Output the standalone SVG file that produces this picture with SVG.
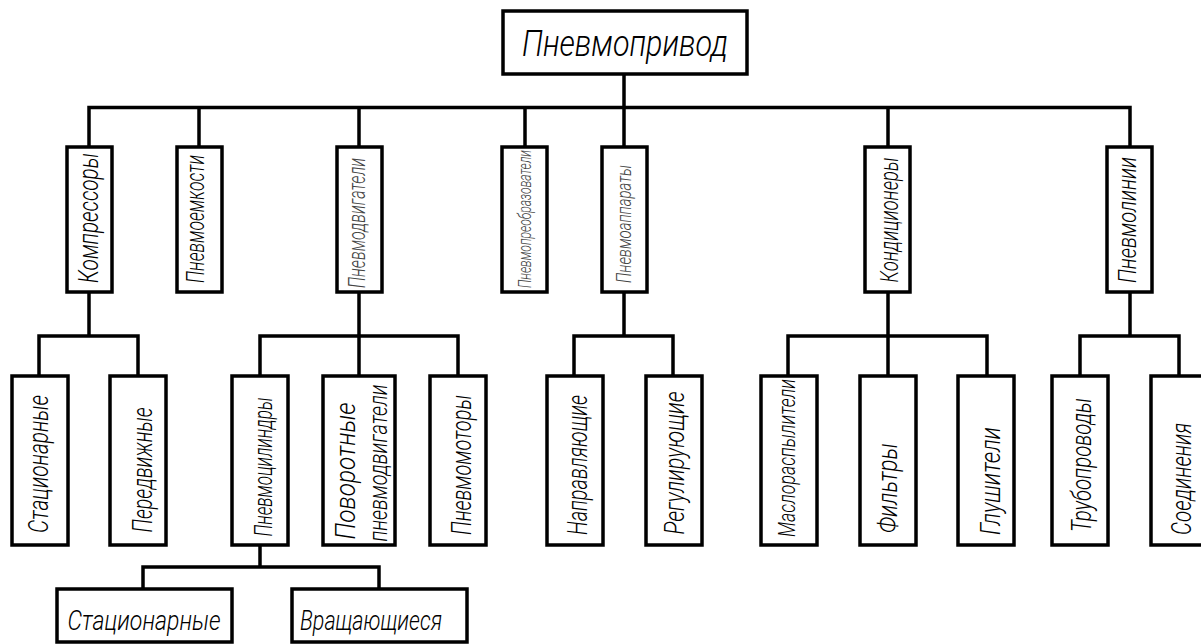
<svg xmlns="http://www.w3.org/2000/svg" width="1201" height="644" viewBox="0 0 1201 644">
<style>
.box{fill:#fff;stroke:#000;stroke-width:3.5}
.ln{fill:none;stroke:#000;stroke-width:3.5;stroke-linecap:square}
text{font-family:Roboto,"Liberation Sans","DejaVu Sans",sans-serif;font-weight:300;font-style:italic;fill:#000;text-anchor:middle}
.v{font-size:27px}
.g{fill:#444}
</style>
<rect width="1201" height="644" fill="#fff"/>
<g id="connectors">
<path class="ln" d="M624 74V107.5M89 107.5H1130M89 107.5V147M199 107.5V147M359 107.5V147M525 107.5V147M624 107.5V147M888 107.5V147M1130 107.5V147"/>
<path class="ln" d="M89 292V336M39 336H138M39 336V376M138 336V376"/>
<path class="ln" d="M359 292V376M260 336H458M260 336V376M458 336V376"/>
<path class="ln" d="M624 292V336M574 336H673M574 336V376M673 336V376"/>
<path class="ln" d="M888 292V376M788 336H987M788 336V376M987 336V376"/>
<path class="ln" d="M1130 292V336M1080 336H1179M1080 336V376M1179 336V376"/>
<path class="ln" d="M260 545V567M143 567H379M143 567V589M379 567V589"/>
</g>
<g id="n-root"><rect class="box" x="503" y="11" width="244" height="63"/><text x="625" y="56" font-size="37" textLength="206" lengthAdjust="spacingAndGlyphs">Пневмопривод</text></g>

<g id="n-kompressory"><rect class="box" x="67" y="147" width="45" height="145"/><text class="v" transform="translate(98 218) rotate(-90)" textLength="130" lengthAdjust="spacingAndGlyphs">Компрессоры</text></g>
<g id="n-emkosti"><rect class="box" x="177" y="147" width="45" height="145"/><text class="v" transform="translate(204 219) rotate(-90)" style="font-size:25px" textLength="128" lengthAdjust="spacingAndGlyphs">Пневмоемкости</text></g>
<g id="n-dvigateli"><rect class="box" x="337" y="147" width="45" height="145"/><text class="v g" transform="translate(365 223) rotate(-90)" style="font-size:23px" textLength="130" lengthAdjust="spacingAndGlyphs">Пневмодвигатели</text></g>
<g id="n-preobr"><rect class="box" x="502" y="147" width="45" height="145"/><text class="v g" transform="translate(531 219) rotate(-90)" style="font-size:19px" textLength="138" lengthAdjust="spacingAndGlyphs">Пневмопреобразователи</text></g>
<g id="n-apparaty"><rect class="box" x="602" y="147" width="45" height="145"/><text class="v g" transform="translate(631 224) rotate(-90)" style="font-size:21px" textLength="118" lengthAdjust="spacingAndGlyphs">Пневмоаппараты</text></g>
<g id="n-kondicionery"><rect class="box" x="865" y="147" width="45" height="145"/><text class="v" transform="translate(898 220) rotate(-90)" style="font-size:25px" textLength="125" lengthAdjust="spacingAndGlyphs">Кондиционеры</text></g>
<g id="n-linii"><rect class="box" x="1107" y="147" width="45" height="145"/><text class="v" transform="translate(1136 220) rotate(-90)" style="font-size:26px" textLength="126" lengthAdjust="spacingAndGlyphs">Пневмолинии</text></g>

<g id="n-stac1"><rect class="box" x="12" y="376" width="56" height="169"/><text class="v" transform="translate(48 464) rotate(-90)" textLength="138" lengthAdjust="spacingAndGlyphs">Стационарные</text></g>
<g id="n-peredv"><rect class="box" x="110" y="376" width="56" height="169"/><text class="v" transform="translate(152 470) rotate(-90)" textLength="125" lengthAdjust="spacingAndGlyphs">Передвижные</text></g>
<g id="n-cilindry"><rect class="box" x="232" y="376" width="56" height="169"/><text class="v" transform="translate(272 467) rotate(-90)" style="font-size:25px" textLength="139" lengthAdjust="spacingAndGlyphs">Пневмоцилиндры</text></g>
<g id="n-povorot"><rect class="box" x="323" y="376" width="72" height="169"/><text class="v" transform="translate(355 471) rotate(-90)" textLength="137" lengthAdjust="spacingAndGlyphs">Поворотные</text><text class="v" transform="translate(387 463) rotate(-90)" style="font-size:25px" textLength="157" lengthAdjust="spacingAndGlyphs">пневмодвигатели</text></g>
<g id="n-motory"><rect class="box" x="430" y="376" width="56" height="169"/><text class="v" transform="translate(471 465) rotate(-90)" textLength="140" lengthAdjust="spacingAndGlyphs">Пневмомоторы</text></g>
<g id="n-napravl"><rect class="box" x="547" y="376" width="56" height="169"/><text class="v" transform="translate(587 465) rotate(-90)" textLength="140" lengthAdjust="spacingAndGlyphs">Направляющие</text></g>
<g id="n-regul"><rect class="box" x="646" y="376" width="56" height="169"/><text class="v" transform="translate(684 463) rotate(-90)" textLength="143" lengthAdjust="spacingAndGlyphs">Регулирующие</text></g>
<g id="n-maslo"><rect class="box" x="761" y="376" width="56" height="169"/><text class="v" transform="translate(795 458) rotate(-90)" style="font-size:23px" textLength="158" lengthAdjust="spacingAndGlyphs">Маслораспылители</text></g>
<g id="n-filtry"><rect class="box" x="860" y="376" width="56" height="169"/><text class="v" transform="translate(897 488) rotate(-90)" textLength="90" lengthAdjust="spacingAndGlyphs">Фильтры</text></g>
<g id="n-glush"><rect class="box" x="958" y="376" width="56" height="169"/><text class="v" transform="translate(1000 481) rotate(-90)" textLength="108" lengthAdjust="spacingAndGlyphs">Глушители</text></g>
<g id="n-truby"><rect class="box" x="1052" y="376" width="56" height="169"/><text class="v" transform="translate(1091 465) rotate(-90)" textLength="134" lengthAdjust="spacingAndGlyphs">Трубопроводы</text></g>
<g id="n-soed"><rect class="box" x="1151" y="376" width="56" height="169"/><text class="v" transform="translate(1191 479) rotate(-90)" textLength="112" lengthAdjust="spacingAndGlyphs">Соединения</text></g>

<g id="n-stac2"><rect class="box" x="57" y="589" width="175" height="53"/><text class="v" x="144" y="630" textLength="153" lengthAdjust="spacingAndGlyphs">Стационарные</text></g>
<g id="n-vrasch"><rect class="box" x="292" y="589" width="175" height="53"/><text class="v" x="371" y="630" textLength="142" lengthAdjust="spacingAndGlyphs">Вращающиеся</text></g>
</svg>
